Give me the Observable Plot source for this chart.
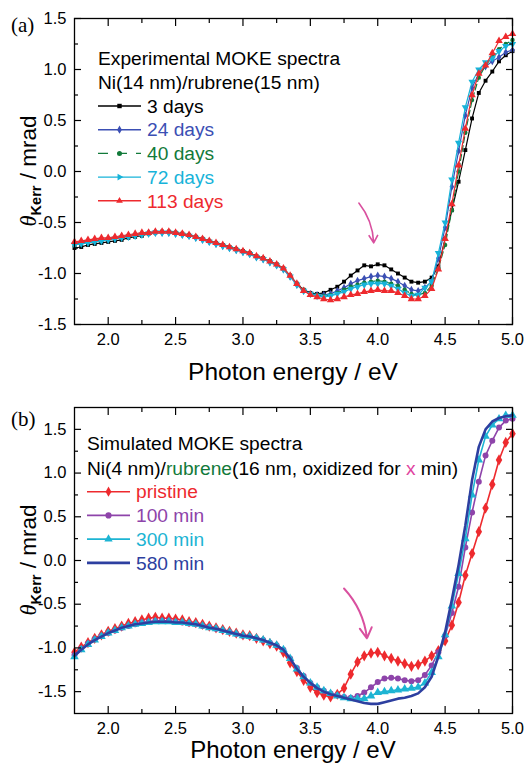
<!DOCTYPE html>
<html><head><meta charset="utf-8">
<script src="https://cdn.jsdelivr.net/npm/d3@7"></script>
<script src="https://cdn.jsdelivr.net/npm/@observablehq/plot@0.6"></script>
<style>
body{margin:0;background:#fff;}
#wrap{position:relative;width:525px;height:768px;font-family:"Liberation Sans",Arial,sans-serif;background:#fff;}
.panel{position:absolute;left:0;}
.overlay{position:absolute;left:0;top:0;pointer-events:none;}
</style></head><body><div id="wrap"></div>
<script>
// ---------- data ----------
const energy = [1.75,1.80,1.85,1.90,1.95,2.00,2.05,2.10,2.15,2.20,2.25,2.30,2.35,2.40,2.45,2.50,2.55,2.60,2.65,2.70,2.75,2.80,2.85,2.90,2.95,3.00,3.05,3.10,3.15,3.20,3.25,3.30,3.35,3.40,3.45,3.50,3.55,3.60,3.65,3.70,3.75,3.80,3.85,3.90,3.95,4.00,4.05,4.10,4.15,4.20,4.25,4.30,4.35,4.40,4.45,4.50,4.55,4.60,4.65,4.70,4.75,4.80,4.85,4.90,4.95,5.00];

// (a) experimental
const days3 = [-0.75,-0.74,-0.72,-0.71,-0.70,-0.69,-0.68,-0.67,-0.65,-0.64,-0.63,-0.61,-0.60,-0.59,-0.59,-0.60,-0.61,-0.63,-0.64,-0.66,-0.68,-0.70,-0.72,-0.74,-0.76,-0.78,-0.80,-0.83,-0.85,-0.88,-0.91,-0.95,-1.02,-1.10,-1.16,-1.19,-1.20,-1.19,-1.16,-1.13,-1.08,-1.02,-0.97,-0.92,-0.93,-0.91,-0.92,-0.96,-1.00,-1.04,-1.08,-1.09,-1.08,-1.04,-0.93,-0.66,-0.38,-0.10,0.21,0.52,0.77,0.89,0.98,1.08,1.14,1.18];
const days24 = [-0.71,-0.69,-0.68,-0.68,-0.67,-0.66,-0.65,-0.64,-0.63,-0.62,-0.61,-0.60,-0.60,-0.60,-0.60,-0.61,-0.62,-0.63,-0.65,-0.67,-0.69,-0.71,-0.73,-0.75,-0.77,-0.79,-0.81,-0.84,-0.86,-0.89,-0.92,-0.96,-1.03,-1.11,-1.17,-1.20,-1.21,-1.21,-1.20,-1.17,-1.14,-1.10,-1.07,-1.05,-1.03,-1.02,-1.03,-1.05,-1.08,-1.12,-1.16,-1.17,-1.14,-1.08,-0.85,-0.55,-0.15,0.20,0.55,0.82,0.96,1.03,1.08,1.12,1.17,1.19];
const days40 = [-0.72,-0.70,-0.69,-0.68,-0.67,-0.66,-0.65,-0.64,-0.63,-0.62,-0.61,-0.60,-0.59,-0.59,-0.59,-0.60,-0.61,-0.62,-0.64,-0.66,-0.68,-0.70,-0.72,-0.74,-0.76,-0.78,-0.80,-0.83,-0.85,-0.88,-0.91,-0.95,-1.02,-1.10,-1.16,-1.20,-1.21,-1.22,-1.21,-1.19,-1.16,-1.13,-1.11,-1.09,-1.08,-1.07,-1.08,-1.10,-1.12,-1.16,-1.20,-1.21,-1.19,-1.12,-0.95,-0.72,-0.38,0.00,0.38,0.70,0.92,1.04,1.12,1.20,1.25,1.29];
const days72 = [-0.72,-0.71,-0.70,-0.69,-0.68,-0.67,-0.66,-0.65,-0.64,-0.63,-0.62,-0.61,-0.60,-0.60,-0.60,-0.61,-0.62,-0.63,-0.65,-0.67,-0.69,-0.71,-0.73,-0.75,-0.77,-0.79,-0.81,-0.84,-0.86,-0.89,-0.92,-0.96,-1.03,-1.11,-1.17,-1.20,-1.22,-1.23,-1.22,-1.20,-1.18,-1.15,-1.13,-1.11,-1.10,-1.10,-1.10,-1.12,-1.15,-1.19,-1.22,-1.21,-1.14,-1.08,-0.80,-0.50,-0.08,0.28,0.63,0.88,1.00,1.07,1.11,1.18,1.23,1.25];
const days113 = [-0.69,-0.68,-0.67,-0.66,-0.65,-0.65,-0.64,-0.63,-0.62,-0.61,-0.60,-0.60,-0.59,-0.59,-0.59,-0.60,-0.61,-0.62,-0.64,-0.66,-0.68,-0.70,-0.72,-0.74,-0.76,-0.78,-0.80,-0.83,-0.85,-0.88,-0.91,-0.95,-1.02,-1.10,-1.17,-1.21,-1.23,-1.25,-1.26,-1.25,-1.23,-1.21,-1.20,-1.18,-1.17,-1.16,-1.17,-1.17,-1.19,-1.22,-1.25,-1.25,-1.22,-1.15,-0.96,-0.66,-0.32,0.06,0.42,0.75,0.96,1.04,1.16,1.28,1.32,1.35];

// (b) simulated
const pristine = [-1.05,-0.99,-0.94,-0.89,-0.85,-0.81,-0.78,-0.75,-0.72,-0.70,-0.68,-0.66,-0.65,-0.66,-0.66,-0.67,-0.68,-0.70,-0.71,-0.73,-0.75,-0.77,-0.79,-0.81,-0.83,-0.85,-0.86,-0.89,-0.92,-0.95,-0.98,-1.05,-1.17,-1.27,-1.37,-1.45,-1.51,-1.54,-1.56,-1.53,-1.46,-1.30,-1.16,-1.09,-1.06,-1.05,-1.09,-1.12,-1.15,-1.18,-1.21,-1.19,-1.15,-1.09,-1.03,-0.92,-0.74,-0.48,-0.17,0.08,0.33,0.60,0.87,1.15,1.35,1.45];
const min100 = [-1.08,-1.01,-0.95,-0.90,-0.86,-0.83,-0.80,-0.77,-0.75,-0.73,-0.71,-0.70,-0.69,-0.69,-0.69,-0.70,-0.71,-0.72,-0.73,-0.75,-0.76,-0.78,-0.80,-0.82,-0.84,-0.86,-0.87,-0.89,-0.91,-0.94,-0.97,-1.02,-1.12,-1.23,-1.32,-1.40,-1.45,-1.49,-1.52,-1.54,-1.56,-1.57,-1.55,-1.51,-1.45,-1.39,-1.35,-1.34,-1.35,-1.37,-1.38,-1.37,-1.31,-1.20,-1.05,-0.86,-0.60,-0.30,0.15,0.55,0.90,1.20,1.37,1.52,1.60,1.62];
const min300 = [-1.10,-1.02,-0.96,-0.91,-0.87,-0.83,-0.80,-0.77,-0.75,-0.73,-0.72,-0.71,-0.70,-0.70,-0.70,-0.71,-0.71,-0.72,-0.73,-0.75,-0.77,-0.78,-0.80,-0.82,-0.84,-0.86,-0.87,-0.89,-0.91,-0.94,-0.97,-1.02,-1.12,-1.24,-1.33,-1.40,-1.45,-1.49,-1.52,-1.55,-1.57,-1.58,-1.58,-1.58,-1.55,-1.51,-1.50,-1.49,-1.48,-1.47,-1.46,-1.45,-1.40,-1.28,-1.10,-0.85,-0.52,-0.15,0.25,0.75,1.15,1.42,1.55,1.62,1.66,1.66];
const min580 = [-1.09,-1.02,-0.96,-0.91,-0.87,-0.83,-0.80,-0.77,-0.75,-0.73,-0.72,-0.71,-0.70,-0.70,-0.70,-0.71,-0.71,-0.72,-0.73,-0.75,-0.77,-0.78,-0.80,-0.82,-0.84,-0.86,-0.87,-0.89,-0.91,-0.94,-0.97,-1.02,-1.12,-1.24,-1.33,-1.40,-1.46,-1.50,-1.53,-1.55,-1.57,-1.59,-1.61,-1.63,-1.64,-1.64,-1.62,-1.60,-1.58,-1.57,-1.55,-1.52,-1.45,-1.33,-1.10,-0.82,-0.45,-0.05,0.40,0.92,1.30,1.50,1.59,1.63,1.65,1.66];

// legends, ticks, annotations
const labelsA = ["3 days","24 days","40 days","72 days","113 days"];
const colorsA = ["#000000","#3b4fb4","#127a3a","#17b3d9","#ee2a2e"];
const labelsB = ["pristine","100 min","300 min","580 min"];
const colorsB = ["#ee2a2e","#8e44aa","#1db4d3","#2d3fa0"];
const xMajor = [2.0,2.5,3.0,3.5,4.0,4.5,5.0];
const xMinor = [2.25,2.75,3.25,3.75,4.25,4.75];
const yMajor = [-1.5,-1.0,-0.5,0.0,0.5,1.0,1.5];
const yMinor = [-1.25,-0.75,-0.25,0.25,0.75,1.25];
const arrowA = [{x1:3.86,y1:-0.31,x2:3.97,y2:-0.70}];
const arrowB = [{x1:3.75,y1:-0.32,x2:3.92,y2:-0.89}];

// ---------- helpers ----------
const tbl = arr => energy.map((e,i)=>({E:e, v:arr[i]}));
const triDown = {draw(ctx,size){const y=-Math.sqrt(size/(Math.sqrt(3)*3));ctx.moveTo(0,-y*2);ctx.lineTo(-Math.sqrt(3)*y,y);ctx.lineTo(Math.sqrt(3)*y,y);ctx.closePath();}};

function frameAxes(){
  const tick = {strokeWidth:1.2, label:null, tickFormat:()=>""};
  return [
    Plot.frame({stroke:"black", strokeWidth:1.3}),
    Plot.axisX({...tick, anchor:"bottom", ticks:xMajor, tickSize:-7}),
    Plot.axisX({...tick, anchor:"bottom", ticks:xMinor, tickSize:-4}),
    Plot.axisX({...tick, anchor:"top", ticks:xMajor, tickSize:-7}),
    Plot.axisX({...tick, anchor:"top", ticks:xMinor, tickSize:-4}),
    Plot.axisY({...tick, anchor:"left", ticks:yMajor, tickSize:-7}),
    Plot.axisY({...tick, anchor:"left", ticks:yMinor, tickSize:-4}),
    Plot.axisY({...tick, anchor:"right", ticks:yMajor, tickSize:-7}),
    Plot.axisY({...tick, anchor:"right", ticks:yMinor, tickSize:-4}),
    Plot.axisX({anchor:"bottom", ticks:xMajor, tickSize:0, tickPadding:9, tickFormat:d=>d.toFixed(1), label:null, fontSize:16.5}),
    Plot.axisY({anchor:"left", ticks:yMajor, tickSize:0, tickPadding:8, tickFormat:d=>d.toFixed(1), label:null, fontSize:16.5})
  ];
}
const series = (arr,color,sym,r,extra={}) => [
  Plot.line(tbl(arr),{x:"E",y:"v",stroke:color,strokeWidth:extra.sw||1.2,strokeDasharray:extra.dash}),
  ...(sym ? [Plot.dot(tbl(arr),{x:"E",y:"v",symbol:sym,r:r,fill:color,stroke:"none"})] : [])
];

const wrap = document.getElementById("wrap");
const common = {width:525, height:384, marginLeft:74, marginRight:13,
  x:{domain:[1.75,5.0]}, style:{fontFamily:"Liberation Sans, Arial, sans-serif", fontSize:"16.5px", color:"black", background:"white", overflow:"visible"}};

const plotA = Plot.plot({...common, marginTop:18, marginBottom:60, y:{domain:[-1.5,1.5]},
  marks:[
    ...series(days3,colorsA[0],"square",2.2),
    ...series(days24,colorsA[1],"diamond",2.4),
    ...series(days40,colorsA[2],"circle",2.2,{dash:"6,3"}),
    ...series(days72,colorsA[3],triDown,2.7),
    ...series(days113,colorsA[4],"triangle",2.8),
    Plot.arrow(arrowA,{x1:"x1",y1:"y1",x2:"x2",y2:"y2",bend:18,stroke:"#d9509f",strokeWidth:1.6,headLength:8}),
    ...frameAxes()
  ]});
plotA.classList.add("panel"); plotA.style.top="0px"; wrap.appendChild(plotA);

const commonB = {...common, marginTop:23, marginBottom:55, y:{domain:[-1.75,1.75]}};
const plotB = Plot.plot({...commonB,
  marks:[
    ...series(pristine,colorsB[0],"diamond",3.4,{sw:1.6}),
    ...series(min100,colorsB[1],"circle",3.0,{sw:1.6}),
    ...series(min300,colorsB[2],"triangle",3.2,{sw:1.6}),
    ...series(min580,colorsB[3],null,0,{sw:2.6}),
    Plot.arrow(arrowB,{x1:"x1",y1:"y1",x2:"x2",y2:"y2",bend:18,stroke:"#d9509f",strokeWidth:2,headLength:9}),
    ...frameAxes()
  ]});
plotB.classList.add("panel"); plotB.style.top="384px"; wrap.appendChild(plotB);

// ---------- overlay texts & legends ----------
const svg = d3.select(wrap).append("svg").attr("class","overlay").attr("width",525).attr("height",768)
  .attr("font-family","Liberation Sans, Arial, sans-serif");
const FS = 19.2;
function text(x,yc,str,color,size=FS,anchor="start"){
  return svg.append("text").attr("x",x).attr("y",yc).attr("dy","0.35em").attr("fill",color||"black")
    .attr("font-size",size).attr("text-anchor",anchor).text(str);
}
function sym(type,x,y,r,color){
  if(!type) return;
  svg.append("path").attr("transform",`translate(${x},${y})`).attr("fill",color)
     .attr("d",d3.symbol(type, Math.PI*r*r)());
}
const triRight = {draw(ctx,size){const y=-Math.sqrt(size/(Math.sqrt(3)*3));ctx.moveTo(-y*2,0);ctx.lineTo(y,-Math.sqrt(3)*y);ctx.lineTo(y,Math.sqrt(3)*y);ctx.closePath();}};

// panel labels
svg.append("text").attr("x",11).attr("y",25).attr("dy","0.35em").attr("font-family","Liberation Serif, serif").attr("font-size",21).text("(a)");
svg.append("text").attr("x",11).attr("y",419).attr("dy","0.35em").attr("font-family","Liberation Serif, serif").attr("font-size",21).text("(b)");

// axis titles
function yTitle(cy){
  const t = svg.append("text").attr("transform",`translate(36,${cy}) rotate(-90)`).attr("text-anchor","middle").attr("font-size",22.5);
  t.append("tspan").attr("font-family","Liberation Serif, serif").attr("font-style","italic").text("θ");
  t.append("tspan").attr("font-size",14.5).attr("font-weight","bold").attr("dy",4.5).text("Kerr");
  t.append("tspan").attr("dy",-4.5).text(" / mrad");
}
yTitle(171); yTitle(560);
text(293,371,"Photon energy / eV","black",24.5,"middle");
text(293,750,"Photon energy / eV","black",24,"middle");

// legend (a)
text(98,58,"Experimental MOKE spectra");
text(98,82,"Ni(14 nm)/rubrene(15 nm)");
const symA = [d3.symbolSquare, d3.symbolDiamond, d3.symbolCircle, triRight, d3.symbolTriangle];
labelsA.forEach((lab,i)=>{
  const y = 106 + i*23.7;
  svg.append("line").attr("x1",98).attr("x2",141).attr("y1",y).attr("y2",y).attr("stroke",colorsA[i]).attr("stroke-width",1.4)
     .attr("stroke-dasharray", i===2 ? "10,9" : null);
  sym(symA[i],119.5,y,2.5,colorsA[i]);
  text(147,y,lab,colorsA[i]);
});

// legend (b)
text(87,443,"Simulated MOKE spectra");
const l2 = svg.append("text").attr("x",87).attr("y",468).attr("dy","0.35em").attr("font-size",FS);
l2.append("tspan").text("Ni(4 nm)/");
l2.append("tspan").attr("fill","#127a3a").text("rubrene");
l2.append("tspan").text("(16 nm, oxidized for ");
l2.append("tspan").attr("fill","#e0449f").text("x");
l2.append("tspan").text(" min)");
const symB = [d3.symbolDiamond, d3.symbolCircle, d3.symbolTriangle, null];
labelsB.forEach((lab,i)=>{
  const y = 491.7 + i*23.7;
  svg.append("line").attr("x1",87).attr("x2",130).attr("y1",y).attr("y2",y).attr("stroke",colorsB[i]).attr("stroke-width",i===3?2.8:1.6);
  sym(symB[i],108.5,y,3.1,colorsB[i]);
  text(136,y,lab,colorsB[i]);
});
</script></body></html>
